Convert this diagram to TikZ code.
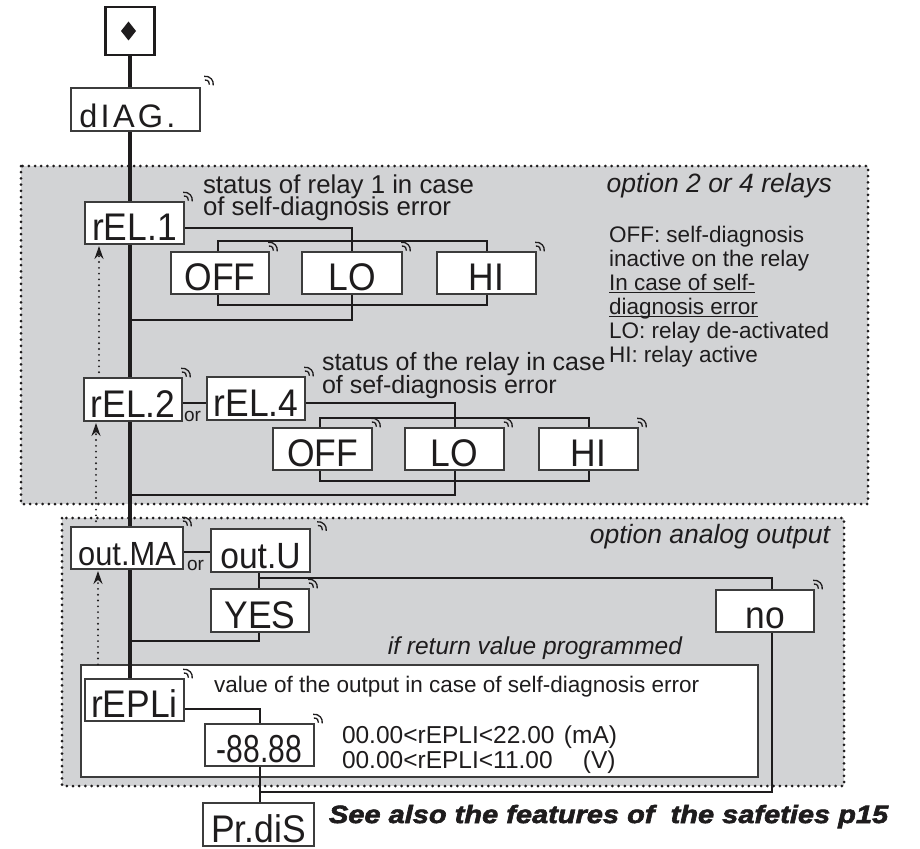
\documentclass[tikz,border=0pt]{standalone}
\usepackage{fontspec}
\setmainfont{Liberation Sans}
\newfontfamily\spacedfont[LetterSpace=10]{Liberation Sans}
\newfontfamily\lblfont[FakeStretch=0.92]{Liberation Sans}
\newfontfamily\narrowfont[FakeStretch=0.77]{Liberation Sans}
\newfontfamily\seefont[FakeStretch=1.16,FakeBold=2.5]{Liberation Sans}
\usetikzlibrary{arrows.meta}
\pgfdeclarelayer{panels}
\pgfdeclarelayer{wires}
\pgfsetlayers{panels,wires,main}
\definecolor{panel}{RGB}{210,211,213}
\definecolor{ink}{RGB}{30,28,29}
\definecolor{edge}{RGB}{60,60,60}
\newcommand\fs[1]{\fontsize{#1}{#1}\selectfont}
\newcommand\myul[1]{\setbox0\hbox{#1}\rlap{\rule[-3pt]{\wd0}{1.3pt}}\box0}
\newcommand\dispbox[7][]{%
  \pgfmathsetmacro\bw{#5-#3}%
  \pgfmathsetmacro\bh{#6-#4-3.5}%
  \node[disp,minimum width=\bw pt,text height=\bh pt,#1] (#2) at ({(#3+#5)/2},{(#4+#6)/2}) {#7};}
\begin{document}
\begin{tikzpicture}[x=1pt,y=-1pt,
  mainline/.style={line width=4.2pt,draw=ink},
  conn/.style={line width=2.1pt,draw=ink},
  panelbox/.style={fill=panel,draw=ink,line width=3pt,line cap=round,dash pattern=on 0pt off 6.2pt},
  retarrow/.style={draw=ink,line width=2.1pt,line cap=round,dash pattern=on 0pt off 5.8pt,shorten >=2pt,-{Stealth[length=13pt,width=9pt]}},
  disp/.style={draw=edge,line width=1.1pt,fill=white,inner sep=0pt,outer sep=0pt,text depth=3.5pt,font=\lblfont\fs{38.5},text=ink,anchor=center},
  txt/.style={inner sep=0pt,outer sep=0pt,anchor=base west,text=ink},
  rtxt/.style={inner sep=0pt,outer sep=0pt,anchor=base east,text=ink},
  keytick/.pic={
    \draw[line width=1.3pt,ink] (0.5,-2) ++(-100:4) arc[start angle=-100,end angle=10,radius=4];
    \draw[line width=1.3pt,ink] (0.5,-2) ++(-100:7.8) arc[start angle=-100,end angle=10,radius=7.8];
  }]
\useasboundingbox (0,0) rectangle (920,848);

\begin{pgfonlayer}{panels}
  \draw[panelbox] (21,166) rectangle (868,504);
  \draw[panelbox] (62,518) rectangle (844,786);
  \node[draw=edge,fill=white,line width=1.4pt,inner sep=0pt,minimum width=677pt,minimum height=112pt] (valbox) at (419.5,721) {};
\end{pgfonlayer}

% display boxes
\node[draw=ink,line width=2.6pt,fill=white,inner sep=0pt,minimum width=49pt,minimum height=48pt] (start) at (130,31) {};
\fill[ink] (start.center) ++(-1.5,-9.5) -- ++(7.5,9.5) -- ++(-7.5,9.5) -- ++(-7.5,-9.5) -- cycle;

\dispbox[font=\spacedfont\fs{32.5}]{diag}{71}{88}{200}{131}{\kern-16pt dIAG.}
\dispbox{rel1}{85}{202}{184}{244}{rEL.1}
\dispbox{off1}{171}{252}{269}{294}{OFF}
\dispbox{lo1}{302}{252}{402}{294}{LO}
\dispbox{hi1}{437}{252}{536}{294}{HI}
\dispbox{rel2}{84}{378}{182}{421}{rEL.2}
\dispbox{rel4}{207}{377}{305}{420}{rEL.4}
\dispbox{off2}{273}{428}{372}{470}{OFF}
\dispbox{lo2}{405}{428}{504}{470}{LO}
\dispbox{hi2}{539}{428}{638}{470}{HI}
\dispbox[font=\lblfont\fs{33.5}]{outma}{71}{527}{183}{569}{out.MA}
\dispbox[font=\lblfont\fs{36.5}]{outu}{211}{529}{310}{572}{out.U}
\dispbox{yes}{211}{589}{309}{632}{YES}
\dispbox{no}{716}{590}{814}{632}{no}
\dispbox{repli}{85}{679}{184}{721}{rEPLi}
\dispbox[font=\narrowfont\fs{39}]{m88}{205}{724}{314}{766}{-88.88}
\dispbox{prdis}{203}{803}{314}{846}{Pr.diS}

% key marks
\pic at ([shift={(5,-2)}]diag.north east) {keytick};
\foreach \n in {rel1,off1,lo1,hi1,rel2,rel4,off2,lo2,hi2,outma,yes,no,repli,m88}
  \pic at (\n.north east) {keytick};
\pic at ([shift={(8,2.5)}]outu.north east) {keytick};

% texts
\node[txt,font=\fs{19}] (or1) at (184,421) {or};
\node[txt,font=\fs{19}] (or2) at (187,570) {or};
\node[txt,font=\fs{25.8}] (s1a) at (203,193) {status of relay 1 in case};
\node[txt,font=\fs{25.8}] (s1b) at (203,215) {of self-diagnosis error};
\node[txt,font=\fs{25}] (s2a) at (322,370) {status of the relay in case};
\node[txt,font=\fs{25}] (s2b) at (322,393) {of sef-diagnosis error};
\node[rtxt,font=\itshape\fs{26.5}] (opt1) at (832,192) {option 2 or 4 relays};
\node[txt,font=\fs{22.5}] (lg1) at (609,242) {OFF: self-diagnosis};
\node[txt,font=\fs{22.5}] (lg2) at (609,266) {inactive on the relay};
\node[txt,font=\fs{22.5}] (lg3) at (609,290) {\myul{In case of self-}};
\node[txt,font=\fs{22.5}] (lg4) at (609,314) {\myul{diagnosis error}};
\node[txt,font=\fs{22.5}] (lg5) at (609,338) {LO: relay de-activated};
\node[txt,font=\fs{22.5}] (lg6) at (609,362) {HI: relay active};
\node[rtxt,font=\itshape\fs{26.5}] (opt2) at (830,543) {option analog output};
\node[rtxt,font=\itshape\fs{24.5}] (ifret) at (682,654) {if return value programmed};
\node[txt,font=\fs{22.5}] (valtxt) at (214,692) {value of the output in case of self-diagnosis error};
\node[txt,font=\fs{24.5}] (rng1) at (342,743) {\makebox[222pt][l]{00.00<rEPLI<22.00}(mA)};
\node[txt,font=\fs{24.5}] (rng2) at (342,768) {\makebox[241pt][l]{00.00<rEPLI<11.00}(V)};
\node[txt,font=\seefont\bfseries\itshape\fs{25}] (see) at (329,823) {See also the features of~ the safeties p15};

\begin{pgfonlayer}{wires}
  \draw[mainline] (start.south) -- (start.south |- repli.north);
  \coordinate (j1) at (352,320);
  \draw[conn] (rel1.east |- 0,228) -| (j1) -- (j1 -| start.south);
  \draw[conn] (218,241) rectangle (487,305);
  \draw[conn] (rel2.east |- 0,403) -- (rel4.west |- 0,403);
  \coordinate (j2) at (455,495);
  \draw[conn] (rel4.east |- 0,403) -| (j2) -- (j2 -| start.south);
  \draw[conn] (320,418) rectangle (589,481);
  \draw[conn] (outma.east |- 0,552) -- (outu.west |- 0,552);
  \coordinate (j3) at (259,578);
  \draw[conn] (outu.south -| j3) -- (yes.north -| j3);
  \draw[conn] (j3) -| (no.north -| 772,0);
  \coordinate (j4) at (259,641);
  \draw[conn] (yes.south -| j4) -- (j4) -- (j4 -| start.south);
  \coordinate (j5) at (260,709);
  \draw[conn] (repli.east |- j5) -- (j5) -- (m88.north -| j5);
  \draw[conn] (m88.south -| j5) -- (prdis.north -| j5);
  \coordinate (j6) at (772,792);
  \draw[conn] (no.south -| j6) -- (j6) -- (j6 -| j5);
  \draw[retarrow] (rel2.north -| 99,0) -- (rel1.south -| 99,0);
  \draw[retarrow] (outma.north -| 96,0) -- (rel2.south -| 96,0);
  \draw[retarrow] (valbox.north -| 98,0) -- (outma.south -| 98,0);
\end{pgfonlayer}
\end{tikzpicture}
\end{document}
